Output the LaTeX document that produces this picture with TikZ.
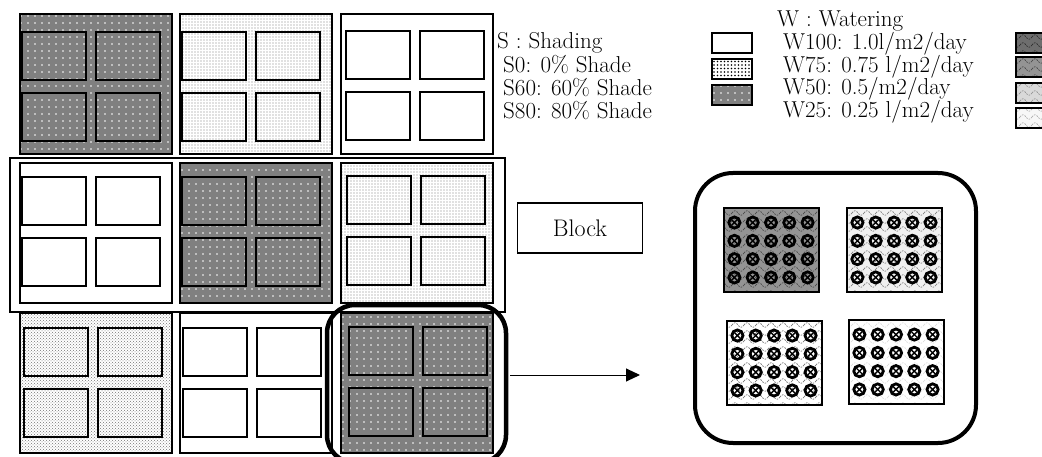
\documentclass[tikz,border=0pt]{standalone}
\usepackage{tikz}
\usetikzlibrary{arrows.meta,patterns,patterns.meta}
\pgfdeclarepatternformonly{waves}{\pgfpoint{-1pt}{-1pt}}{\pgfpoint{13pt}{9pt}}{\pgfpoint{12pt}{8pt}}{%
  \pgfsetlinewidth{0.6pt}%
  \pgfsetdash{{1.6pt}{1.2pt}}{0pt}%
  \pgfpathmoveto{\pgfpoint{0pt}{4pt}}%
  \pgfpathcurveto{\pgfpoint{2pt}{7pt}}{\pgfpoint{4pt}{7pt}}{\pgfpoint{6pt}{4pt}}%
  \pgfpathcurveto{\pgfpoint{8pt}{1pt}}{\pgfpoint{10pt}{1pt}}{\pgfpoint{12pt}{4pt}}%
  \pgfusepath{stroke}%
}
\tikzset{
  sdark/.style={preaction={fill=gray},pattern={Dots[distance=7pt,radius=0.8pt]},pattern color=white},
  slight/.style={preaction={fill=white},pattern={Dots[distance=3pt,radius=0.7pt]},pattern color=gray},
  sdense/.style={preaction={fill=white},pattern={Dots[distance=3.5pt,radius=0.9pt]},pattern color=black},
  scheck/.style={preaction={fill=white},pattern=crosshatch dots,pattern color=black!55},
  snone/.style={fill=white},
  wfull/.style={preaction={fill=black!57},pattern=waves,pattern color=black!85},
  wthree/.style={preaction={fill=black!42},pattern=waves,pattern color=black!75},
  whalf/.style={preaction={fill=black!15},pattern=waves,pattern color=black!45},
  wquarter/.style={preaction={fill=black!3},pattern=waves,pattern color=black!35},
  wlite/.style={preaction={fill=black!6},pattern=waves,pattern color=black!55},
  wopen/.style={preaction={fill=white},pattern=waves,pattern color=black!60},
  wbare/.style={preaction={fill=white},pattern=waves,pattern color=black!15},
  pbox/.style={draw,line width=1.8pt},
  sbox/.style={draw,line width=2.6pt},
  lbox/.style={draw,line width=2pt},
  lbl/.style={anchor=base west,inner sep=0pt,font=\fontsize{23}{27}\selectfont},
  sprout/.pic={
    \draw[line width=2.8pt] (0,0) circle (5.6);
    \draw[line width=1.4pt] (-3,-3) -- (3,3) (-3,3) -- (3,-3);
  }
}

\begin{document}
\begin{tikzpicture}[x=1pt,y=-1pt]
\useasboundingbox (0,0) rectangle (1042,457);
\draw[line width=1.5pt] (10,158) rectangle (505,312);
\foreach \x/\y/\sty/\dx/\ey in {20/14/sdark/2/18, 180/14/slight/2/18, 341/14/snone/5/17,
    20/163/snone/2/14, 180/163/sdark/2/14, 341/163/slight/6/13,
    20/313/scheck/4/15, 180/313/snone/3/15, 341/313/sdark/8/14} {
  \path[pbox,\sty] (\x,\y) rectangle (\x+152,\y+140);
  \draw[sbox] (\x+\dx,\y+\ey) rectangle (\x+\dx+64,\y+\ey+48);
  \draw[sbox] (\x+\dx+74,\y+\ey) rectangle (\x+\dx+138,\y+\ey+48);
  \draw[sbox] (\x+\dx,\y+\ey+61) rectangle (\x+\dx+64,\y+\ey+109);
  \draw[sbox] (\x+\dx+74,\y+\ey+61) rectangle (\x+\dx+138,\y+\ey+109);
}
\draw[line width=4.5pt,rounded corners=28] (327,305) rectangle (506,463);

\node[lbl] (shd) at (497,49) {S : Shading};
\node[lbl] (s0) at (503,73) {S0: 0\% Shade};
\node[lbl] (s60) at (503,96) {S60: 60\% Shade};
\node[lbl] (s80) at (503,119) {S80: 80\% Shade};
\path[lbox,snone] (712,33) rectangle (752,53);
\path[lbox,sdense] (712,59) rectangle (752,79);
\path[lbox,sdark] (712,85) rectangle (752,105);

\node[lbl] (wat) at (777,27) {W : Watering};
\node[lbl] (w100) at (783,50) {W100: 1.0l/m2/day};
\node[lbl] (w75) at (783,72.5) {W75: 0.75 l/m2/day};
\node[lbl] (w50) at (783,95) {W50: 0.5/m2/day};
\node[lbl] (w25) at (783,117.5) {W25: 0.25 l/m2/day};
\path[lbox,wfull] (1016,33) rectangle (1058,53);
\path[lbox,wthree] (1016,57) rectangle (1058,77);
\path[lbox,whalf] (1016,83) rectangle (1058,103);
\path[lbox,wquarter] (1016,108) rectangle (1058,128);

\node[draw,line width=1.2pt,minimum width=125,minimum height=50,font=\fontsize{24}{28}\selectfont] (blk) at (580,228) {Block};
\coordinate (from) at (510,375);
\coordinate (to) at (640,375);
\draw[line width=1pt,-{Triangle[length=14pt,width=13pt]}] (from) -- (to);

\draw[line width=4pt,rounded corners=38] (695,173) rectangle (976,443);
\foreach \cx/\cy/\sty in {771/250/wthree, 894/250/wlite, 774/363/wopen, 896/362/wbare} {
  \path[lbox,\sty] (\cx-47.5,\cy-42) rectangle (\cx+47.5,\cy+42);
  \foreach \i in {-2,...,2}
    \foreach \j in {-1.5,-0.5,0.5,1.5}
      \pic at (\cx+\i*18.3,\cy+\j*18.3) {sprout};
}
\end{tikzpicture}
\end{document}
